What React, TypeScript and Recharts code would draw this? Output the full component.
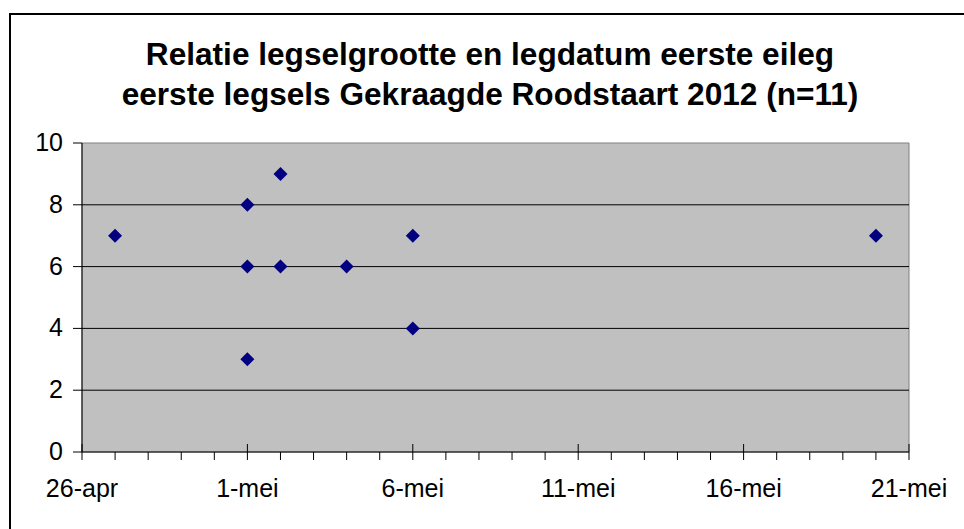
import { ScatterChart, Scatter, XAxis, YAxis, CartesianGrid, ReferenceLine, ReferenceArea } from "recharts";

// days counted from 26-apr (0) to 21-mei (25)
const LAY_DAY = [1, 5, 5, 5, 6, 6, 8, 10, 10, 24];
const CLUTCH_SIZE = [7, 8, 6, 3, 9, 6, 6, 7, 4, 7];

const DAY_TICKS = [0, 1, 2, 3, 4, 5, 6, 7, 8, 9, 10, 11, 12, 13, 14, 15, 16, 17, 18, 19, 20, 21, 22, 23, 24, 25];
const MAJOR_DAYS = [0, 5, 10, 15, 20, 25];
const MAJOR_LABELS = ["26-apr", "1-mei", "6-mei", "11-mei", "16-mei", "21-mei"];
const Y_TICKS = [0, 2, 4, 6, 8, 10];
const GRID_VALUES = [2, 4, 6, 8];

const TITLE_LINES = [
  "Relatie legselgrootte en legdatum eerste eileg",
  "eerste legsels Gekraagde Roodstaart 2012 (n=11)",
];

const data = LAY_DAY.map((day, i) => ({ day, size: CLUTCH_SIZE[i] }));

const FONT = "'Liberation Sans', Arial, sans-serif";

function XTick({ x, y, payload }: any) {
  const idx = MAJOR_DAYS.indexOf(payload.value);
  const major = idx >= 0;
  return (
    <g>
      <line x1={x} x2={x} y1={major ? y - 8 : y} y2={y + 8} stroke="#000" strokeWidth={1} />
      {major && (
        <text x={x} y={y + 45} textAnchor="middle" fontSize={25} fill="#000" fontFamily={FONT}>
          {MAJOR_LABELS[idx]}
        </text>
      )}
    </g>
  );
}

function YTick({ x, y, payload }: any) {
  return (
    <g>
      <line x1={x - 9} x2={x} y1={y} y2={y} stroke="#000" strokeWidth={1} />
      <text x={x - 19} y={y + 8} textAnchor="end" fontSize={25} fill="#000" fontFamily={FONT}>
        {payload.value}
      </text>
    </g>
  );
}

function Diamond({ cx, cy }: any) {
  const r = 7;
  return (
    <polygon
      points={`${cx},${cy - r} ${cx + r},${cy} ${cx},${cy + r} ${cx - r},${cy}`}
      fill="#000080"
    />
  );
}

export default function App() {
  return (
    <div
      style={{
        position: "fixed",
        left: 0,
        top: 0,
        width: 964,
        height: 529,
        overflow: "hidden",
        background: "#fff",
        fontFamily: FONT,
      }}
    >
      {/* outer chart frame */}
      <div
        style={{
          position: "absolute",
          left: 9,
          top: 13,
          width: 1000,
          height: 600,
          border: "2px solid #000",
        }}
      />

      {/* Title */}
      {TITLE_LINES.map((line, i) => (
        <div
          key={i}
          style={{
            position: "absolute",
            left: 0,
            width: 980,
            top: 36 + i * 40,
            textAlign: "center",
            fontSize: 31.6,
            lineHeight: "36px",
            fontWeight: "bold",
            color: "#000",
            whiteSpace: "nowrap",
          }}
        >
          {line}
        </div>
      ))}

      <div style={{ position: "absolute", left: 0, top: 0 }}>
        <ScatterChart
          width={964}
          height={529}
          margin={{ top: 143, right: 55, bottom: 37, left: 22 }}
        >
          <CartesianGrid fill="#C0C0C0" horizontal={false} vertical={false} />
          {GRID_VALUES.map((v) => (
            <ReferenceLine key={v} y={v} stroke="#000" strokeWidth={1} />
          ))}
          <ReferenceArea x1={0} x2={25} y1={0} y2={10} fill="none" stroke="#808080" strokeWidth={1} />
          <XAxis
            type="number"
            dataKey="day"
            domain={[0, 25]}
            ticks={DAY_TICKS}
            interval={0}
            tickSize={0}
            tickMargin={0}
            tickLine={false}
            height={40}
            axisLine={{ stroke: "#000", strokeWidth: 1 }}
            tick={<XTick />}
          />
          <YAxis
            type="number"
            dataKey="size"
            domain={[0, 10]}
            ticks={Y_TICKS}
            interval={0}
            tickSize={0}
            tickMargin={0}
            tickLine={false}
            width={60}
            axisLine={{ stroke: "#000", strokeWidth: 1 }}
            tick={<YTick />}
          />
          <Scatter data={data} shape={<Diamond />} isAnimationActive={false} />
        </ScatterChart>
      </div>
    </div>
  );
}
